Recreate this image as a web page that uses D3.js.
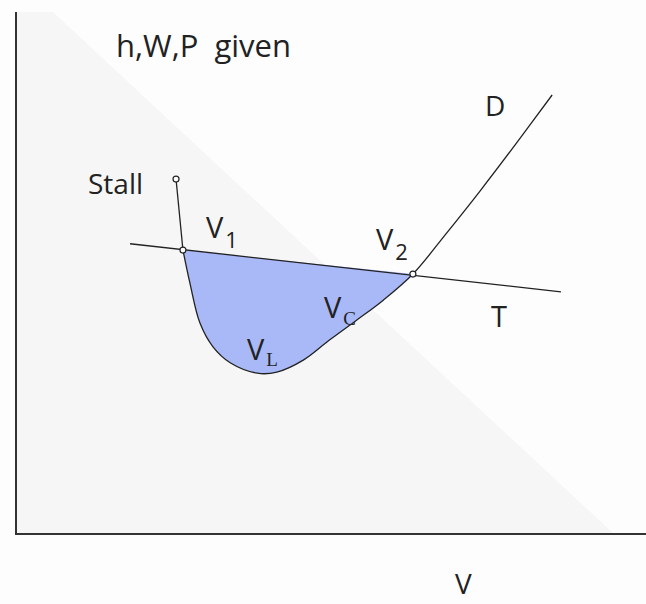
<!DOCTYPE html>
<html lang="en">
  <head>
    <meta charset="UTF-8" />
    <title>thrust-drag</title>
    <style>
      body { margin: 0; background: #fdfdfd; }
      text { font-family: "Open Sans", "Noto Sans", sans-serif; fill: #222; white-space: pre; }
      .sub { font-family: "Liberation Serif", "DejaVu Serif", serif; }
    </style>
  </head>
  <body>
    <svg width="646" height="604" id="svg"></svg>
    <script src="https://cdn.jsdelivr.net/npm/d3@7"></script>
    <script>
      // velocity / force values, arbitrary units (0..100)
      const thrustV = [18.1, 86.5];
      const thrustF = [55.6, 46.4];

      const dragV = [26.5, 27.6, 29.2, 31.3, 34.0, 38.3, 41.4, 45.6, 49.8, 54.1, 58.3, 63.0, 68.25, 73.65, 79.2, 85.1];
      const dragF = [54.4, 48.1, 40.4, 35.8, 32.8, 30.8, 31.0, 33.3, 37.2, 41.0, 44.8, 49.8, 57.5, 65.7, 74.5, 84.1];

      const stallV = [25.4, 26.5];
      const stallF = [68.0, 54.4];

      const v1 = [26.5, 54.4];
      const v2 = [63.0, 49.8];

      const svg = d3.select("#svg");
      const x = d3.scaleLinear().domain([0, 100]).range([16, 646]);
      const y = d3.scaleLinear().domain([0, 100]).range([534, 12]);

      // faint diagonal shading behind the plot
      svg.append("polygon")
        .attr("points", [[16, 12], [53, 12], [614, 534], [16, 534]].join(" "))
        .attr("fill", "#f6f6f6");

      const line = d3.line().x(d => x(d[0])).y(d => y(d[1]));
      const curve = d3.line().x(d => x(d[0])).y(d => y(d[1])).curve(d3.curveCatmullRom);

      const drag = dragV.map((v, i) => [v, dragF[i]]);
      const i2 = dragV.indexOf(v2[0]);

      // region between T and D
      svg.append("path")
        .attr("d", curve(drag.slice(0, i2 + 1)) + "Z")
        .attr("fill", "#a9b8f6");

      svg.append("path")
        .attr("d", line(thrustV.map((v, i) => [v, thrustF[i]])))
        .attr("fill", "none").attr("stroke", "#222").attr("stroke-width", 1.3);

      svg.append("path")
        .attr("d", curve(drag))
        .attr("fill", "none").attr("stroke", "#222").attr("stroke-width", 1.3);

      svg.append("path")
        .attr("d", line(stallV.map((v, i) => [v, stallF[i]])))
        .attr("fill", "none").attr("stroke", "#222").attr("stroke-width", 1.3);

      svg.selectAll("circle.pt")
        .data([[stallV[0], stallF[0]], v1, v2])
        .join("circle")
        .attr("cx", d => x(d[0])).attr("cy", d => y(d[1])).attr("r", 3)
        .attr("fill", "#fff").attr("stroke", "#222").attr("stroke-width", 1.2);

      // axes
      svg.append("path")
        .attr("d", `M${x(0)},${y(100)}V${y(0)}H${x(100)}`)
        .attr("fill", "none").attr("stroke", "#333").attr("stroke-width", 2);

      function label(px, py, main, sub, size, subFont, subSize, subDy) {
        const t = svg.append("text").attr("x", px).attr("y", py).attr("font-size", size).text(main);
        if (sub) {
          t.append("tspan").attr("class", subFont ? "sub" : null)
            .attr("dy", subDy).attr("dx", 2).attr("font-size", subSize).text(sub);
        }
      }

      label(116, 57, "h,W,P  given", "", 31);
      label(88, 194, "Stall", "", 28);
      label(206, 238, "V", "1", 29, false, 22, 10);
      label(376, 250, "V", "2", 29, false, 22, 10);
      label(485, 116, "D", "", 28);
      label(491, 327, "T", "", 29);
      label(324, 318, "V", "C", 29, true, 19, 7);
      label(247, 360, "V", "L", 29, true, 19, 6);
      label(455, 594, "V", "", 28);
    </script>
  </body>
</html>
